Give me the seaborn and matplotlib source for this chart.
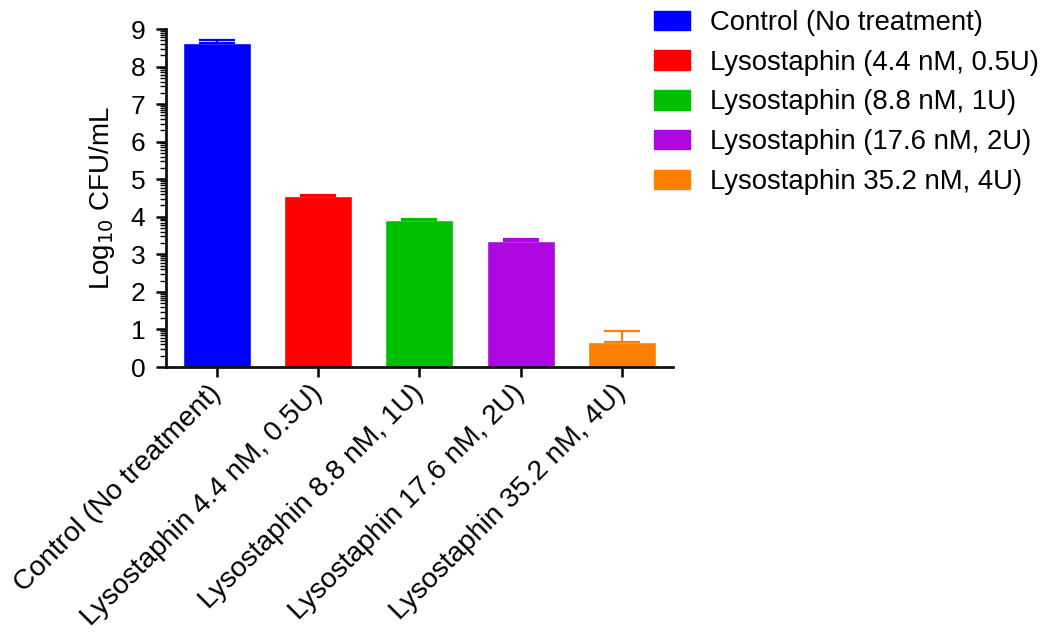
import matplotlib
matplotlib.use("Agg")
import matplotlib.pyplot as plt
import numpy as np
import pandas as pd
import seaborn as sns
from matplotlib.patches import Patch
from matplotlib.ticker import FixedLocator

groups = [
    "Control (No treatment)",
    "Lysostaphin (4.4 nM, 0.5U)",
    "Lysostaphin (8.8 nM, 1U)",
    "Lysostaphin (17.6 nM, 2U)",
    "Lysostaphin 35.2 nM, 4U)",
]
tick_labels = [
    "Control (No treatment)",
    "Lysostaphin 4.4 nM, 0.5U)",
    "Lysostaphin 8.8 nM, 1U)",
    "Lysostaphin 17.6 nM, 2U)",
    "Lysostaphin 35.2 nM, 4U)",
]
log_cfu = [8.64, 4.55, 3.91, 3.35, 0.66]
sem = [0.08, 0.02, 0.04, 0.05, 0.30]
colors = ["#0000FF", "#FF0000", "#00BF00", "#AE07E1", "#FF8000"]

sns.set_style("ticks")
plt.rcParams["font.family"] = ["Liberation Sans", "DejaVu Sans"]
plt.rcParams.update({"text.color": "black", "axes.labelcolor": "black",
                     "xtick.color": "black", "ytick.color": "black"})

df = pd.DataFrame({"group": groups, "value": log_cfu})

fig = plt.figure(figsize=(10.46, 6.32), dpi=100)
ax = fig.add_axes([0.1587, 0.4193, 0.4843, 0.5348])

sns.barplot(data=df, x="group", y="value", hue="group", palette=colors,
            width=0.67, legend=False, ax=ax, saturation=1)

# upper-only error bars, coloured like the bars
for i, (m, e, c) in enumerate(zip(log_cfu, sem, colors)):
    ax.errorbar(i, m, yerr=[[0], [e]], color=c, capsize=13, elinewidth=1.6,
                capthick=1.6, fmt="none", zorder=1)

ax.set_ylim(0, 9)
ax.set_xlim(-0.5, 4.5)
ax.set_yticks(range(10))
minor = [k + np.log10(m) for k in range(9) for m in range(2, 10)]
ax.yaxis.set_minor_locator(FixedLocator(minor))
ax.tick_params(axis="y", which="major", length=7, width=1.8, labelsize=19, pad=8)
ax.tick_params(axis="y", which="minor", length=4, width=1)
ax.tick_params(axis="x", length=7, width=1.8, labelsize=20.3, pad=9)
ax.set_xticks(range(len(tick_labels)))
ax.set_xticklabels(tick_labels, rotation=45, ha="right", va="center",
                   rotation_mode="anchor")
ax.set_xlabel("")
ax.set_ylabel("Log$_{10}$ CFU/mL", fontsize=20, labelpad=10)
sns.despine(ax=ax)
for s in ("left", "bottom"):
    ax.spines[s].set_linewidth(2)
    ax.spines[s].set_color("#111111")

handles = [Patch(facecolor=c, edgecolor=c) for c in colors]
fig.legend(handles, groups, loc="upper left", bbox_to_anchor=(0.612, 1.006),
           frameon=False, fontsize=19.8, handlelength=1.3, handleheight=0.72,
           handletextpad=0.75, labelspacing=0.5, borderpad=0.0)

fig.savefig("out.png", dpi=100)
